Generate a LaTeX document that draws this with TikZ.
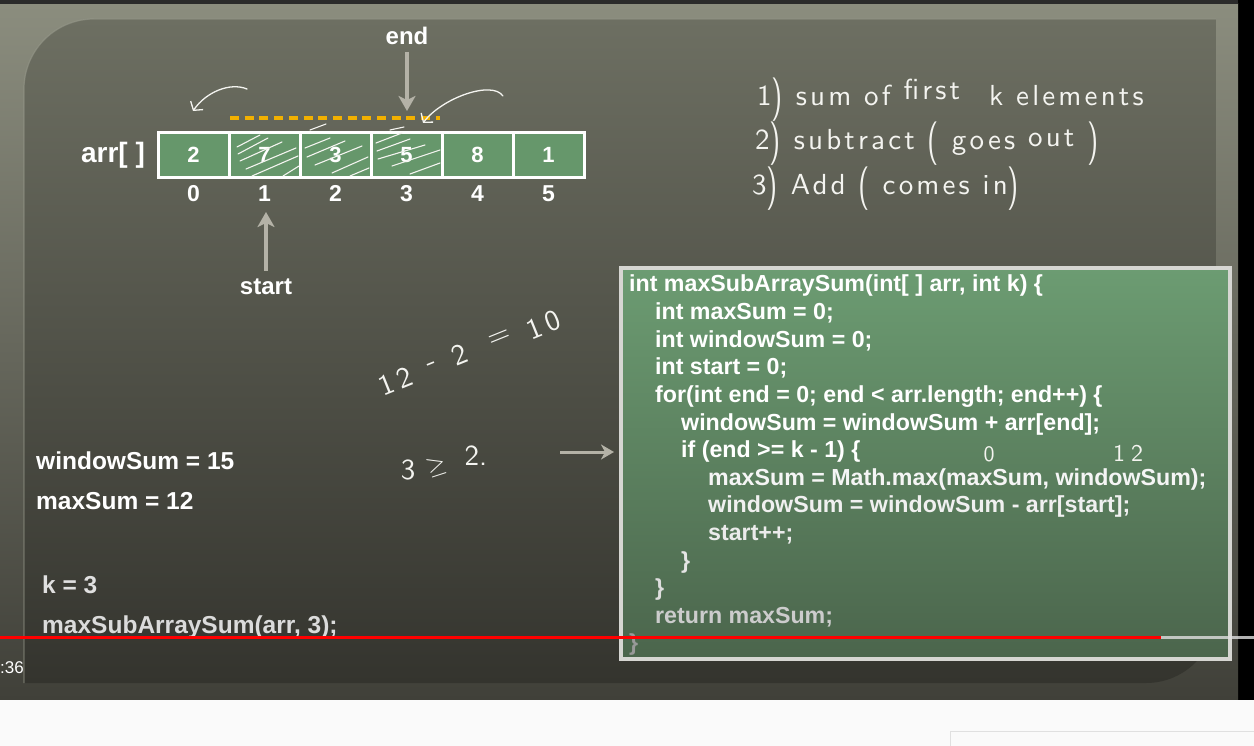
\documentclass[tikz,border=0pt]{standalone}
\usepackage{fontspec}
\usepackage{graphicx}
\setmainfont{Liberation Sans}
\newfontfamily\handfont{lmsans10-regular.otf}
\usetikzlibrary{arrows.meta}
\definecolor{frametop}{HTML}{8B8D7E}
\definecolor{framemid}{HTML}{7A7C6E}
\definecolor{framebot}{HTML}{404039}
\definecolor{boardtop}{HTML}{6D6F62}
\definecolor{boardmid}{HTML}{5C5E53}
\definecolor{boardbot}{HTML}{34342E}
\definecolor{boardrim}{HTML}{9A9C8E}
\definecolor{cellgreen}{HTML}{66976B}
\definecolor{codetop}{HTML}{6C9C72}
\definecolor{codemid}{HTML}{5E8762}
\definecolor{codebot}{HTML}{4B654C}
\definecolor{codeborder}{HTML}{D6D6D2}
\definecolor{arrowgray}{HTML}{B4B2A7}
\definecolor{dashorange}{HTML}{F2B000}
\definecolor{handcol}{HTML}{F4F4F0}
\definecolor{ytred}{HTML}{FF0000}
\newcommand\hp[1]{\raisebox{-0.15em}{\scalebox{1}[1.5]{#1}}}
\begin{document}
\begin{tikzpicture}[x=1pt,y=1pt,
  lbl/.style={text=white, inner sep=0pt, font=\fontsize{24}{28}\selectfont\bfseries},
  leftlbl/.style={text=#1, inner sep=0pt, anchor=base west, font=\fontsize{24.5}{28}\selectfont\bfseries},
  cell/.style={draw=white, line width=3pt, fill=cellgreen, minimum width=71pt, minimum height=45pt, inner sep=0pt, text=white, font=\fontsize{22}{26}\selectfont\bfseries},
  idx/.style={text=white, inner sep=0pt, anchor=base, font=\fontsize{23}{26}\selectfont\bfseries},
  codeline/.style={text=#1, inner sep=0pt, anchor=base west, font=\fontsize{23.2}{27.6}\selectfont\bfseries},
  codeline/.default=white,
  grayarrow/.style={draw=arrowgray, line width=3.5pt, -{Stealth[length=15pt,width=17pt,inset=4pt]}},
  handarrow/.style={draw=handcol, line width=1.3pt, line cap=round, -{Straight Barb[length=6pt,width=15pt]}},
  hand/.style={text=handcol, inner sep=0pt, anchor=base west, font=\handfont\fontsize{29}{32}\selectfont},
  calc/.style={text=handcol, inner sep=0pt, anchor=center, rotate=22, font=\handfont\fontsize{29}{32}\selectfont},
  hatch/.style={draw=handcol, line width=1.1pt, line cap=round}
]
\useasboundingbox (0,0) rectangle (1254,-746);
% background pieces
\fill[black] (1238,0) rectangle (1254,-700);
\shade[top color=frametop, middle color=framemid, bottom color=framebot] (0,-4) rectangle (1238,-700);
\fill[black!83] (0,0) rectangle (1238,-4);
\shade[top color=boardtop, middle color=boardmid, bottom color=boardbot]
  (24,-683) -- (24,-89) arc[start angle=180, end angle=90, radius=70] -- (1216,-19) -- (1216,-613) arc[start angle=0, end angle=-90, radius=70] -- cycle;
\draw[boardrim, opacity=0.55, line width=1.2pt] (24,-683) -- (24,-89) arc[start angle=180, end angle=90, radius=70] -- (1216,-19);
\fill[white!98!black] (0,-700) rectangle (1254,-746);
\draw[black!12, line width=1pt] (950,-746) -- (950,-731) -- (1254,-731);

% array
\node[lbl, font=\fontsize{28}{32}\selectfont\bfseries] (arrlbl) at (113,-155) {arr[ ]};
\node[cell] (c0) at (193.5,-155) {2};
\node[cell] (c1) at (264.5,-155) {7};
\node[cell] (c2) at (335.5,-155) {3};
\node[cell] (c3) at (406.5,-155) {5};
\node[cell] (c4) at (477.5,-155) {8};
\node[cell] (c5) at (548.5,-155) {1};
\foreach \i/\x in {0/193.5,1/264.5,2/335.5,3/406.5,4/477.5,5/548.5}
  \node[idx] (i\i) at (\x,-201.5) {\i};

% hatching over cells 1..3
\foreach \a/\b/\c/\d in {
  237/147/260/135, 238/154/268/138, 240/161/282/142, 246/169/296/148, 252/176/298/156, 283/176/299/166,
  305/148/330/138, 307/157/345/141, 315/165/362/146, 332/173/368/157, 350/176/369/168, 310/130/326/124,
  376/143/402/133, 377/151/410/139, 378/159/425/145, 392/166/440/150, 410/174/440/163, 390/130/404/127}
  \draw[hatch] (\a,-\b) -- (\c,-\d);

% dashed orange window marker
\coordinate (dashL) at (230,-118);
\coordinate (dashR) at (440,-118);
\draw[dashorange, line width=3.5pt, dash pattern=on 9pt off 5.7pt] (dashL) -- (dashR);

% end / start pointers
\node[lbl] (endlbl) at (407,-36) {end};
\coordinate (endfrom) at (407,-52);
\coordinate (endtip) at (407,-111);
\draw[grayarrow] (endfrom) -- (endtip);
\node[lbl] (startlbl) at (266,-287) {start};
\coordinate (starttip) at (266,-212);
\coordinate (startfrom) at (266,-271);
\draw[grayarrow] (startfrom) -- (starttip);

% hand-drawn arrows
\coordinate (ha1s) at (247,-89);
\coordinate (ha1e) at (193,-111);
\draw[handarrow] (ha1s) .. controls (230,-82) and (206,-92) .. (ha1e);
\coordinate (ha2s) at (503,-96);
\coordinate (ha2e) at (423,-123);
\draw[handarrow] (ha2s) .. controls (492,-80) and (442,-98) .. (ha2e);

% handwritten notes
\node[hand] (n1) at (757,-106) {\addfontfeatures{LetterSpace=11}1\hp{)} sum of \raisebox{6pt}{first}\quad k elements};
\node[hand] (n2) at (755,-150) {\addfontfeatures{LetterSpace=11}2\hp{)} subtract \hp{(} goes \raisebox{3pt}{out} \hp{)}};
\node[hand] (n3) at (752,-195) {\addfontfeatures{LetterSpace=11}3\hp{)} Add \hp{(} comes in\hp{)}};
\node[calc] (calcA) at (396,-381) {1\kern5pt2};
\node[calc] (calcB) at (433,-366) {-};
\node[calc] (calcC) at (460,-355) {2};
\node[calc] (calcD) at (500,-338) {=};
\node[calc] (calcE) at (544,-325) {1\kern5pt0};
\node[hand, anchor=center] (g3) at (408,-470) {3};
\node[hand, anchor=center, rotate=18, font=\fontsize{32}{34}\selectfont] (gge) at (437,-467) {$\geq$};
\node[hand, anchor=center] (g2) at (476,-456) {2.};

% left variables
\node[leftlbl=white] (ws) at (36,-469) {windowSum = 15};
\node[leftlbl=white] (ms) at (36,-509) {maxSum = 12};
\node[leftlbl=black!12] (kv) at (42,-593) {k = 3};
\node[leftlbl=black!14] (call) at (42,-633) {maxSubArraySum(arr, 3);};

% code box
\node[draw=codeborder, line width=4pt, top color=codetop, middle color=codemid, bottom color=codebot,
      minimum width=609pt, minimum height=391pt, inner sep=0pt, outer sep=0pt] (code) at (925.5,-463.5) {};
\coordinate (cafrom) at (560,-452);
\coordinate (cato) at (614,-452);
\draw[grayarrow, -{Stealth[length=13pt,width=15pt,inset=4pt]}, line width=3pt] (cafrom) -- (cato);

\node[codeline] (l1) at (629,-292) {int maxSubArraySum(int[ ] arr, int k) \{};
\node[codeline] (l2) at (655,-319.6) {int maxSum = 0;};
\node[codeline] (l3) at (655,-347.2) {int windowSum = 0;};
\node[codeline] (l4) at (655,-374.8) {int start = 0;};
\node[codeline] (l5) at (655,-402.4) {for(int end = 0; end < arr.length; end++) \{};
\node[codeline] (l6) at (681,-430) {windowSum = windowSum + arr[end];};
\node[codeline] (l7) at (681,-457.6) {if (end >= k - 1) \{};
\node[codeline=black!4] (l8) at (708,-485.2) {maxSum = Math.max(maxSum, windowSum);};
\node[codeline=black!6] (l9) at (708,-512.8) {windowSum = windowSum - arr[start];};
\node[codeline=black!8] (l10) at (708,-540.4) {start++;};
\node[codeline=black!10] (l11) at (681,-568) {\}};
\node[codeline=black!13] (l12) at (655,-595.6) {\}};
\node[codeline=black!20] (l13) at (655,-623.2) {return maxSum;};
\node[codeline=black!40] (l14) at (629,-650.8) {\}};

\node[hand, anchor=center, font=\handfont\fontsize{22}{24}\selectfont] (h0) at (989,-454) {0};
\node[hand, anchor=center, font=\handfont\fontsize{24}{26}\selectfont] (h12) at (1128,-453) {1\kern6pt2};

% video overlay
\coordinate (pbL) at (0,-637.5);
\coordinate (pbM) at (1161,-637.5);
\coordinate (pbR) at (1254,-637.5);
\draw[ytred, line width=3pt] (pbL) -- (pbM);
\draw[white!75!gray, opacity=0.8, line width=3pt] (pbM) -- (pbR);
\node[text=white, inner sep=0pt, anchor=west, font=\fontsize{17}{20}\selectfont] (time) at (0,-668) {:36};
\end{tikzpicture}
\end{document}
